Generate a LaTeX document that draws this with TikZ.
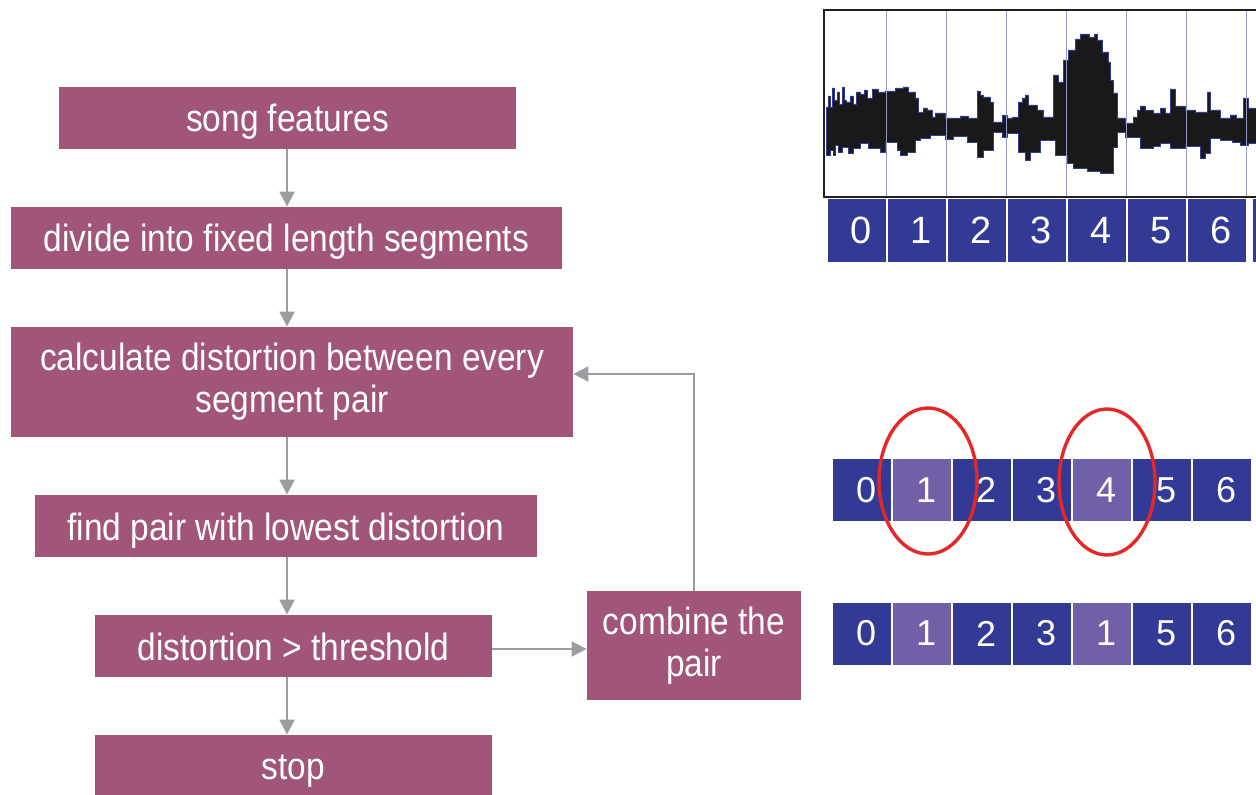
\documentclass[tikz,border=0pt]{standalone}
\usepackage{fontspec}
\setmainfont{Liberation Sans}
\newfontfamily\narrowfont[FakeStretch=0.88]{Liberation Sans}
\usepackage{tikz}
\usetikzlibrary{arrows.meta,positioning,calc}
\usepackage{xcolor}

\definecolor{boxpink}{RGB}{161,85,120}
\definecolor{arrowgray}{RGB}{155,157,160}
\definecolor{segblue}{RGB}{51,58,150}
\definecolor{segpurple}{RGB}{112,96,168}
\definecolor{gridblue}{RGB}{150,155,205}
\definecolor{ringred}{RGB}{228,40,40}
\definecolor{framegray}{RGB}{35,31,32}

\begin{document}
\begin{tikzpicture}[x=0.5pt, y=-0.5pt, >={Triangle[length=7.5pt,width=7.5pt]},
  stepbox/.style={fill=boxpink, text=white, inner sep=0pt, align=center,
    font=\narrowfont\fontsize{19}{21}\selectfont},
  oneline/.style={stepbox, text height=14pt, text depth=0pt},
  twoline/.style={stepbox, execute at begin node=\rule{0pt}{17pt}},
  flow/.style={->, draw=arrowgray, line width=1pt},
  cell/.style={fill=segblue, text=white, inner sep=0pt, minimum width=29pt,
    minimum height=31pt, font=\fontsize{18}{20}\selectfont,
    execute at begin node=\hspace*{4pt}},
  hicell/.style={cell, fill=segpurple},
  ring/.style={draw=ringred, line width=1.7pt}]

  \useasboundingbox (0,0) rectangle (1256,795);

  % Define the flow chart boxes
  \node[oneline, minimum width=228.5pt, minimum height=31pt] (feat) at (287.5,118) {song features};
  \node[oneline, minimum width=275.5pt, minimum height=31pt] (divide) at (286.5,238) {divide into fixed length segments};
  \node[twoline, minimum width=281pt, minimum height=55pt] (dist) at (292,382) {calculate distortion between every\\segment pair};
  \node[oneline, minimum width=251pt, minimum height=31pt] (find) at (286,526) {find pair with lowest distortion};
  \node[oneline, minimum width=198.5pt, minimum height=31pt] (thresh) at (293.5,646) {distortion > threshold};
  \node[oneline, minimum width=198.5pt, minimum height=30pt] (stop) at (293.5,765) {stop};
  \node[twoline, minimum width=107pt, minimum height=54.5pt] (comb) at (694,645.5) {combine the\\pair};
  \coordinate (spine) at (287,0);

  % Draw arrows between boxes
  \draw[flow] (spine |- feat.south) -- (spine |- divide.north);
  \draw[flow] (spine |- divide.south) -- (spine |- dist.north);
  \draw[flow] (spine |- dist.south) -- (spine |- find.north);
  \draw[flow] (spine |- find.south) -- (spine |- thresh.north);
  \draw[flow] (spine |- thresh.south) -- (spine |- stop.north);
  \draw[flow] ([yshift=-1.5pt]thresh.east) -- ([yshift=-1.5pt]thresh.east -| comb.west);
  \draw[flow] (comb.north) |- ([yshift=4pt]dist.east);

  % Waveform
  \fill[black!90, draw=segblue, line width=0.4pt] (826,125)
    -- plot[const plot] coordinates {(826,107) (828,96) (830,107) (832,88) (834,100) (837,92)
      (839,104) (842,87) (844,100) (846,102) (850,96) (853,104) (856,92) (860,94) (864,90)
      (867,98) (872,89) (878,92) (885,91) (895,88) (903,87) (908,92) (915,98) (918,112)
      (923,108) (927,110) (932,117) (935,113) (945,118) (960,116) (968,118) (977,91)
      (980,95) (983,97) (990,102) (993,122) (1002,115) (1007,118) (1012,117) (1018,102)
      (1022,98) (1025,95) (1028,105) (1037,110) (1043,117) (1053,75) (1058,82) (1063,60)
      (1068,50) (1075,39) (1080,34) (1089,37) (1094,34) (1097,40) (1102,52) (1108,62)
      (1110,80) (1113,93) (1117,118) (1125,123) (1133,117) (1137,110) (1140,106) (1145,110)
      (1153,113) (1160,108) (1165,113) (1170,89) (1175,106) (1185,110) (1195,112)
      (1207,92) (1210,110) (1220,118) (1230,115) (1236,118) (1243,98) (1248,108) (1262,108)}
    -- plot[const plot] coordinates {(1262,143) (1248,145) (1240,142) (1232,140) (1220,138)
      (1210,153) (1205,158) (1200,146) (1185,148) (1170,143) (1160,146) (1153,148)
      (1140,137) (1125,132) (1117,147) (1113,173) (1100,171) (1087,168) (1073,163)
      (1067,155) (1055,140) (1040,152) (1030,160) (1025,152) (1018,133) (1007,137)
      (1002,132) (993,150) (983,157) (977,142) (967,136) (953,139) (945,135) (930,138)
      (920,140) (915,152) (907,155) (900,150) (897,142) (885,152) (880,148) (868,143)
      (860,148) (853,153) (848,147) (842,152) (838,145) (835,155) (833,150) (830,155)
      (826,155)}
    -- cycle;
  \foreach \i in {0,...,6}
    \draw[gridblue, line width=0.5pt] ({886+60*\i},10) -- ({886+60*\i},197);
  \draw[framegray, line width=0.9pt] (824,10) rectangle (1280,197);

  % Segment rows
  \foreach \i in {0,...,6}
    \node[cell, minimum height=31.5pt, font=\fontsize{19}{20}\selectfont] (top\i) at ({857+60*\i},230.5) {\i};
  \node[cell, minimum height=31.5pt] (top7) at (1282,230.5) {};

  \foreach \i/\s in {0/cell,1/hicell,2/cell,3/cell,4/hicell,5/cell,6/cell}
    \node[\s] (pair\i) at ({862+60*\i},490) {\i};

  \foreach \i/\s/\t in {0/cell/0,1/hicell/1,2/cell/2,3/cell/3,4/hicell/1,5/cell/5,6/cell/6}
    \node[\s] (merged\i) at ({862+60*\i},633.5) {\t};

  % Mark the chosen pair
  \draw[ring] (928,481) ellipse [x radius=24.5pt, y radius=36.5pt];
  \draw[ring] (1107,482) ellipse [x radius=24pt, y radius=36.5pt];

\end{tikzpicture}
\end{document}
